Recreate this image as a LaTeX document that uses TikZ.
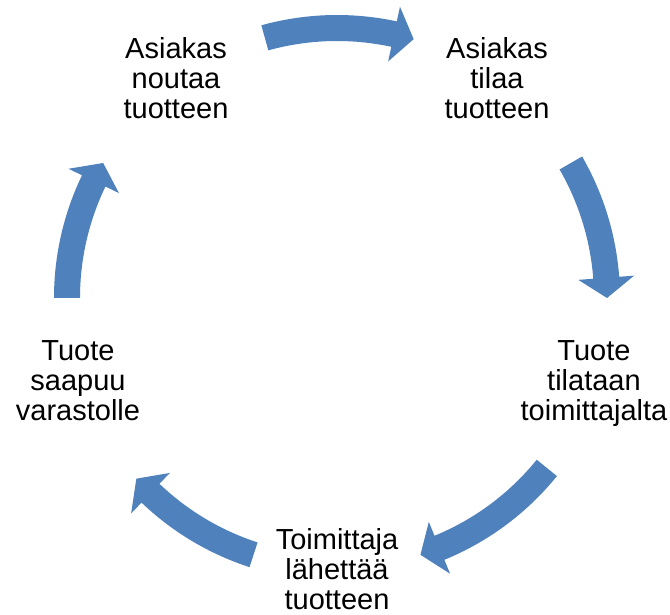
\documentclass[tikz,border=0pt]{standalone}
\usepackage{fontspec}
\setmainfont{Liberation Sans}
\definecolor{arrowblue}{HTML}{4F81BD}
\newcommand\cycarrow[2]{%
  \pgfmathsetmacro\hb{#2+4.3}%
  \fill[arrowblue] (#1:257pt) arc[start angle=#1, end angle=\hb, radius=257pt]
    -- (\hb:242pt) -- (#2:270pt) -- (\hb:298pt) -- (\hb:283pt)
    arc[start angle=\hb, end angle=#1, radius=283pt] -- cycle;}
\begin{document}
\begin{tikzpicture}[x=1pt,y=1pt,
  steplabel/.style={anchor=north, inner sep=0pt, align=center,
    font=\fontsize{29}{30}\selectfont}]
\useasboundingbox (-337,-317) rectangle (333,298);
\cycarrow{105.5}{73.5}
\cycarrow{30}{0}
\cycarrow{-39}{-72}
\cycarrow{-108}{-138}
\cycarrow{180}{150}
\node[steplabel] (noutaa) at (-161,261) {Asiakas\\noutaa\\tuotteen};
\node[steplabel] (tilaa) at (160,261) {Asiakas\\tilaa\\tuotteen};
\node[steplabel] (tilataan) at (257,-42) {Tuote\\tilataan\\toimittajalta};
\node[steplabel] (lahettaa) at (0,-230) {Toimittaja\\lähettää\\tuotteen};
\node[steplabel] (saapuu) at (-259,-42) {Tuote\\saapuu\\varastolle};
\end{tikzpicture}
\end{document}
